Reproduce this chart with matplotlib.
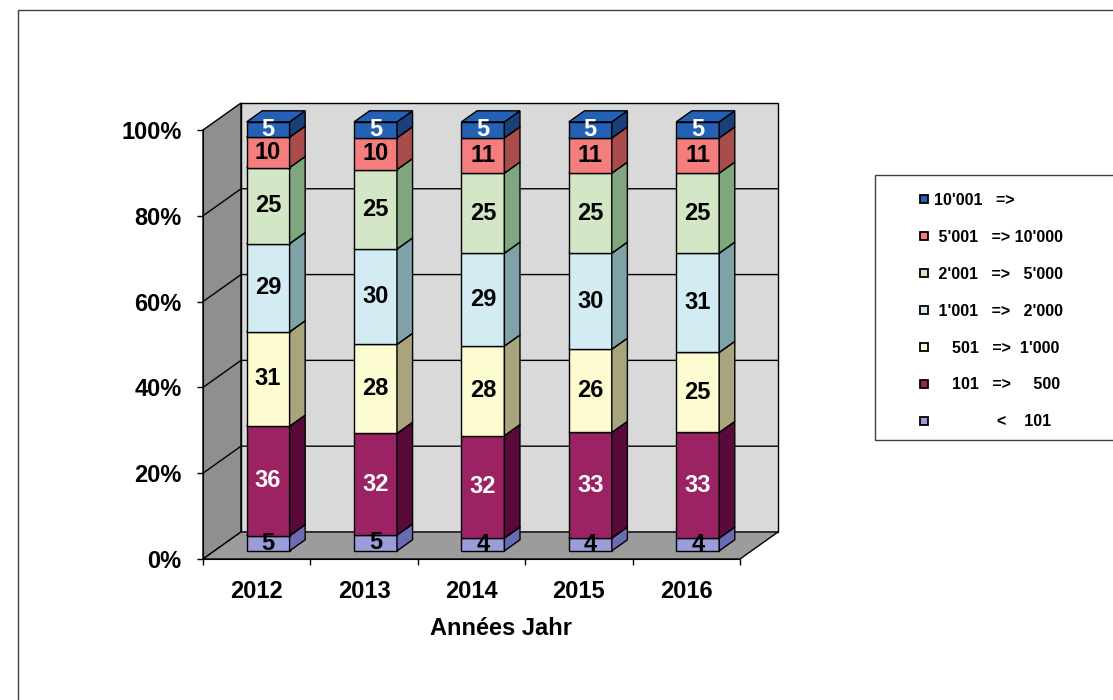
import numpy as np
import matplotlib.pyplot as plt
from matplotlib.patches import Polygon, Rectangle
from matplotlib.lines import Line2D

plt.rcParams['font.family'] = ['Liberation Sans', 'DejaVu Sans']
plt.rcParams['font.weight'] = 'bold'

# data (counts per size class, chart shows them as 100% stacked)
years = ['2012', '2013', '2014', '2015', '2016']
lt_101 = [5, 5, 4, 4, 4]
r101_500 = [36, 32, 32, 33, 33]
r501_1000 = [31, 28, 28, 26, 25]
r1001_2000 = [29, 30, 29, 30, 31]
r2001_5000 = [25, 25, 25, 25, 25]
r5001_10000 = [10, 10, 11, 11, 11]
gt_10001 = [5, 5, 5, 5, 5]

series = [lt_101, r101_500, r501_1000, r1001_2000, r2001_5000, r5001_10000, gt_10001]
legend_labels = ["              <    101",
                 "    101   =>     500",
                 "    501   =>  1'000",
                 " 1'001   =>   2'000",
                 " 2'001   =>   5'000",
                 " 5'001   => 10'000",
                 "10'001   =>"]
front_cols = ['#9C9CD8', '#9B2363', '#FDFBD0', '#D3ECF4', '#D3E7C6', '#F47E7E', '#2461B5']
side_cols = ['#6B6BB5', '#5A0A3A', '#A8A47E', '#7EA2A8', '#7FA67F', '#A84C4C', '#1B3F78']
text_cols = ['black', 'white', 'black', 'black', 'black', 'black', 'white']

# 3d look: depth vector of the wall box, bar placement inside it
DX, DY = 0.354, 6.3
F1, F2 = 0.30, 0.71
BW = 0.4

fig = plt.figure(figsize=(11.13, 7.0), dpi=100)
ax = fig.add_axes([203 / 1113, 141 / 700, 537 / 1113, 429 / 700])
ax.set_xlim(0, 5)
ax.set_ylim(0, 100)
n = len(years)


def poly(pts, fc, lw=1.0, z=1):
    p = Polygon(pts, closed=True, facecolor=fc, edgecolor='black', linewidth=lw, zorder=z)
    p.set_clip_on(False)
    ax.add_patch(p)


# walls and floor
poly([(0, 0), (0, 100), (DX, 100 + DY), (DX, DY)], '#8F8F8F', z=1)
poly([(DX, DY), (n + DX, DY), (n + DX, 100 + DY), (DX, 100 + DY)], '#D9D9D9', z=1)
poly([(0, 0), (n, 0), (n + DX, DY), (DX, DY)], '#9C9C9C', z=1)
for v in range(20, 100, 20):
    ax.plot([0, DX, n + DX], [v, v + DY, v + DY], color='black', lw=1.0, zorder=2, clip_on=False)

# stacked bars
counts = np.array(series, dtype=float)
pct = counts / counts.sum(axis=0) * 100
bottom = np.zeros(n)
dx, dy = (F2 - F1) * DX, (F2 - F1) * DY
for k in range(len(series)):
    for i in range(n):
        x0 = i + 0.5 - BW / 2 + F1 * DX
        x1 = x0 + BW
        y0 = bottom[i] + F1 * DY
        y1 = y0 + pct[k, i]
        poly([(x0, y0), (x1, y0), (x1, y1), (x0, y1)], front_cols[k], z=3)
        poly([(x1, y0), (x1 + dx, y0 + dy), (x1 + dx, y1 + dy), (x1, y1)], side_cols[k], z=3)
        poly([(x0, y1), (x1, y1), (x1 + dx, y1 + dy), (x0 + dx, y1 + dy)], front_cols[k], z=3)
        ax.text((x0 + x1) / 2, (y0 + y1) / 2, str(series[k][i]), ha='center', va='center',
                fontsize=17, fontweight='bold', color=text_cols[k], zorder=4)
    bottom += pct[k]

# axes
for s in ['top', 'right']:
    ax.spines[s].set_visible(False)
for s in ['left', 'bottom']:
    ax.spines[s].set_zorder(5)
ax.set_yticks(range(0, 101, 20))
ax.set_yticklabels([f'{v}%' for v in range(0, 101, 20)], fontsize=17, fontweight='bold')
ax.set_xticks(range(0, n + 1))
ax.set_xticklabels([''] * (n + 1))
ax.set_xticks(np.arange(n) + 0.5, minor=True)
ax.set_xticklabels(years, minor=True, fontsize=17, fontweight='bold')
ax.tick_params(axis='y', direction='out', length=4.5, width=1, pad=11)
ax.tick_params(axis='x', which='major', direction='out', length=4.5, width=1)
ax.tick_params(axis='x', which='minor', length=0, pad=15)
ax.text((500.5 - 203) / 537, (559 - 635) / 429, 'Années Jahr', transform=ax.transAxes,
        ha='center', va='baseline', fontsize=17, fontweight='bold')

# legend
handles = [Line2D([], [], marker='s', ls='', markersize=6, markerfacecolor=c,
                  markeredgecolor='black', markeredgewidth=1.3) for c in front_cols]
fig.legend(handles[::-1], legend_labels[::-1], loc='upper left',
           bbox_to_anchor=(920 / 1113, 1 - 193 / 700), frameon=False,
           prop={'weight': 'bold', 'size': 11.5}, handlelength=0.5, handletextpad=0.4,
           labelspacing=1.37, borderpad=0, borderaxespad=0)
fig.add_artist(Rectangle((875 / 1113, 1 - 440 / 700), 0.3, 265 / 700, transform=fig.transFigure,
                         fill=False, edgecolor='#404040', lw=1))
fig.add_artist(Rectangle((18 / 1113, -0.1), 1.2, 1.1 - 10 / 700, transform=fig.transFigure,
                         fill=False, edgecolor='#404040', lw=1))

fig.savefig('out.png', dpi=100)
